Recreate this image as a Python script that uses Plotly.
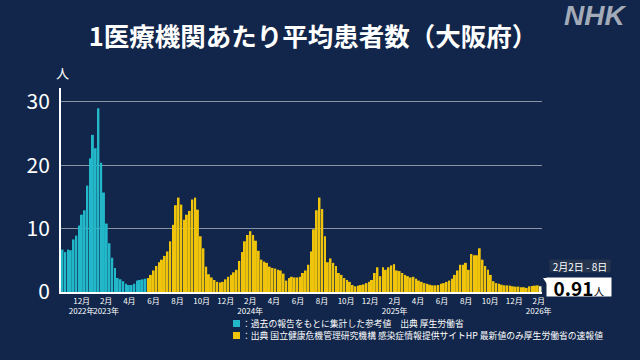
import pandas as pd
import plotly.graph_objects as go

# ---------------- data ----------------
first_week = "2022-10-10"   # Monday of the first weekly bar
teal_values = [6.7, 6.3, 6.7, 6.6, 8.3, 8.9, 10.5, 12.2, 12.9, 16.8,
               21.1, 24.8, 22.7, 29.0, 20.4, 15.7, 10.8, 7.7, 5.4, 3.8,
               2.2, 2.0, 1.7, 1.3, 1.1, 1.1, 1.3, 1.8, 1.9, 2.0, 2.1]
yellow_values = [2.2, 2.7, 3.4, 4.1, 4.7, 5.1, 5.7, 6.4, 8.0, 10.6,
                 13.7, 14.9, 13.8, 11.4, 12.2, 12.8, 14.6, 14.9, 13.0, 8.8, 6.9,
                 4.0, 2.8, 2.3, 1.9, 1.6, 1.5, 1.6, 2.0, 2.4, 2.7,
                 3.1, 3.5, 4.9, 6.3, 8.0, 9.0, 9.6, 9.0, 8.1, 6.5,
                 5.1, 4.8, 4.6, 4.0, 3.8, 3.7, 3.5,
                 3.4, 2.9, 1.8, 2.2, 2.4, 2.3, 2.3, 2.4, 3.0, 3.4, 4.3, 6.4, 9.9, 12.9,
                 14.9, 13.1, 8.8, 4.7, 5.3, 4.6, 4.1, 3.0, 2.7, 2.2,
                 1.9, 1.6, 1.1, 0.9, 1.0, 1.1, 1.2, 1.4, 1.6, 1.9,
                 3.0, 3.9, 2.5, 3.9, 3.5, 3.9, 4.2, 4.4, 3.4, 3.3, 3.0,
                 2.7, 2.5, 2.3, 2.4, 2.1, 1.8, 1.6, 1.4, 1.3, 1.15,
                 1.05, 1.05, 1.1, 1.3, 1.4, 1.6, 1.8, 2.1, 2.7, 3.4,
                 4.3, 4.3, 4.6, 3.5, 6.0, 5.8, 5.8, 6.9, 5.1, 4.1,
                 3.5, 2.7, 1.7, 1.4, 1.3, 1.15, 1.05, 1.05, 1.0, 0.9,
                 0.85, 0.85, 0.75, 0.75, 0.65, 0.9, 0.95, 1.0, 1.05, 0.91]
tick_dates = ["2022-12-01", "2023-02-01", "2023-04-01", "2023-06-01", "2023-08-01",
              "2023-10-01", "2023-12-01", "2024-02-01", "2024-04-01", "2024-06-01",
              "2024-08-01", "2024-10-01", "2024-12-01", "2025-02-01", "2025-04-01",
              "2025-06-01", "2025-08-01", "2025-10-01", "2025-12-01", "2026-02-01"]
tick_labels = ["12月<br>2022年", "2月<br>2023年", "4月", "6月", "8月",
               "10月", "12月", "2月<br>2024年", "4月", "6月",
               "8月", "10月", "12月", "2月<br>2025年", "4月",
               "6月", "8月", "10月", "12月", "2月<br>2026年"]
y_ticks = [0, 10, 20, 30]
title_text = "1医療機関あたり平均患者数（大阪府）"
legend_teal = "：過去の報告をもとに集計した参考値　出典 厚生労働省"
legend_yellow = "：出典 国立健康危機管理研究機構 感染症情報提供サイトHP 最新値のみ厚生労働省の速報値"
latest_period = "2月2日 - 8日"
latest_value = 0.91

# ---------------- styling ----------------
BG = "#11264a"
TEAL = "#22b7c9"
YELLOW = "#f0c40a"
LATEST = "#fbf3cf"
FONT = "Noto Sans CJK JP"

n = len(teal_values) + len(yellow_values)
dates = pd.date_range(first_week, periods=n, freq="7D") + pd.Timedelta(hours=84)
values = teal_values + yellow_values
colors = [TEAL] * len(teal_values) + [YELLOW] * (len(yellow_values) - 1) + [LATEST]

# plot area in pixels
L, R, T, B = 61, 542, 88, 292
W, H = 640, 360
def px(x):
    return (x - L) / (R - L)
def py(y):
    return (B - y) / (B - T)

fig = go.Figure()
fig.add_trace(go.Bar(x=dates, y=values, marker=dict(color=colors, line=dict(width=0)),
                     width=5 * 24 * 3600 * 1000, hoverinfo="x+y"))

x_start = dates[0] - pd.Timedelta(days=3.8)
x_end = dates[-1] + pd.Timedelta(days=3.8)

fig.update_layout(
    width=W, height=H,
    margin=dict(l=L, r=W - R, t=T, b=H - B),
    paper_bgcolor=BG, plot_bgcolor=BG,
    showlegend=False,
    font=dict(family=FONT, color="white"),
    title=dict(text="<b>" + title_text + "</b>", x=313 / W, xanchor="center",
               y=1 - 37 / H, yanchor="middle",
               font=dict(size=25.5, color="white", family=FONT)),
    xaxis=dict(type="date", range=[x_start, x_end], showgrid=False, zeroline=False,
               showline=True, linecolor="white", linewidth=2,
               tickvals=pd.to_datetime(tick_dates), ticktext=tick_labels,
               tickfont=dict(size=8, color="white", family=FONT),
               tickangle=0, ticks="", ticklabelstandoff=0),
    yaxis=dict(range=[0, 32.2], tickvals=y_ticks, showgrid=True, gridcolor="#8a93a3",
               gridwidth=1, zeroline=False, showline=True, linecolor="white", linewidth=2,
               tickfont=dict(size=21, color="white", family=FONT),
               ticks="", ticklabelstandoff=5),
    bargap=0.25,
)

ann = []
# unit
ann.append(dict(x=px(62), y=py(72), xref="paper", yref="paper", text="人", showarrow=False,
                font=dict(size=13, color="white"), xanchor="center", yanchor="middle"))
# NHK logo
ann.append(dict(x=px(595), y=py(16), xref="paper", yref="paper", text="<b><i>NHK</i></b>",
                showarrow=False, font=dict(size=28, color="#a3abb8", family="Liberation Sans"),
                xanchor="center", yanchor="middle"))
# legend text
ann.append(dict(x=px(240), y=py(323), xref="paper", yref="paper", text=legend_teal, showarrow=False,
                font=dict(size=8.8, color="white"), xanchor="left", yanchor="middle"))
ann.append(dict(x=px(240), y=py(335.5), xref="paper", yref="paper", text=legend_yellow, showarrow=False,
                font=dict(size=8.8, color="white"), xanchor="left", yanchor="middle"))
# latest value callout
ann.append(dict(x=px(580), y=py(265.5), xref="paper", yref="paper", text=latest_period, showarrow=False,
                font=dict(size=10, color="white"), bgcolor="#253550", width=60, height=12,
                borderpad=0, xanchor="center", yanchor="middle"))
ann.append(dict(x=px(579), y=py(287), xref="paper", yref="paper",
                text="<b>%.2f</b><span style='font-size:11px'>人</span>" % latest_value,
                showarrow=False, font=dict(size=19, color="black"), bgcolor="white",
                width=64, height=18, borderpad=0, xanchor="center", yanchor="middle"))
fig.update_layout(annotations=ann)

shapes = []
shapes.append(dict(type="rect", xref="paper", yref="paper", x0=px(233), x1=px(240),
                   y0=py(327), y1=py(320), fillcolor=TEAL, line=dict(width=0)))
shapes.append(dict(type="rect", xref="paper", yref="paper", x0=px(233), x1=px(240),
                   y0=py(339), y1=py(332), fillcolor=YELLOW, line=dict(width=0)))
shapes.append(dict(type="path", xref="paper", yref="paper",
                   path="M %f %f L %f %f L %f %f Z" % (px(543), py(278), px(547), py(278), px(547), py(284)),
                   fillcolor="white", line=dict(width=0)))
fig.update_layout(shapes=shapes)

fig.write_html("out.html")
